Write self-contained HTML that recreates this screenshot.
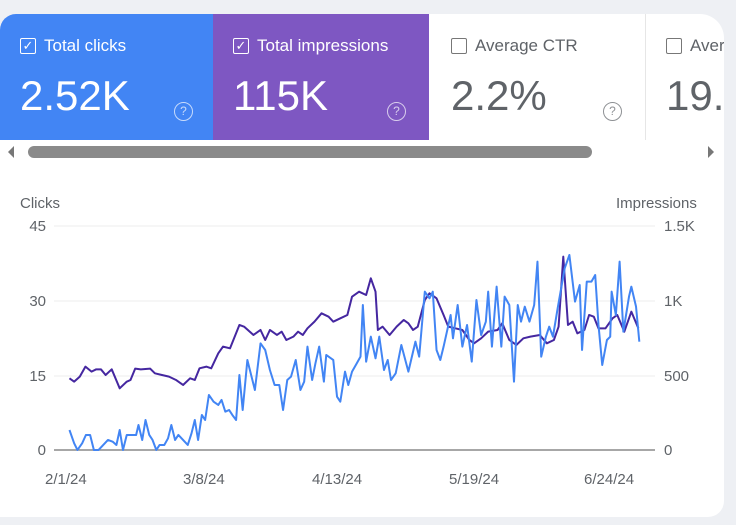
<!DOCTYPE html>
<html><head><meta charset="utf-8"><style>
body{margin:0;width:736px;height:525px;background:#eef0f4;font-family:"Liberation Sans",sans-serif;overflow:hidden;position:relative}
.card{position:absolute;left:0;top:14px;width:724px;height:503px;background:#fff;border-radius:16px 24px 16px 0;overflow:hidden}
.tile{position:absolute;top:0;height:126px}
.t1{left:0;width:213px;background:#4285f4;color:#fff}
.t2{left:213px;width:216px;background:#7e57c2;color:#fff}
.t3{left:429px;width:216px;color:#5f6368;border-right:1px solid #e6e6e6}
.t4{left:646px;width:90px;color:#5f6368}
.lab{position:absolute;left:20px;top:22px;font-size:17px;display:flex;align-items:center;white-space:nowrap}
.cb{width:14px;height:14px;border:1.5px solid currentColor;border-radius:2px;margin-right:8px;font-size:13px;line-height:14px;text-align:center}
.val{position:absolute;left:20px;top:58px;font-size:42px;white-space:nowrap}
.q{position:absolute;left:174px;top:88px;width:17px;height:17px;border:1.5px solid currentColor;border-radius:50%;font-size:12px;text-align:center;line-height:17px;opacity:.7}
.txt{position:absolute;font-size:15px;color:#5f6368}
</style></head><body>
<div class="card">
<div class="tile t1"><div class="lab"><div class="cb">✓</div>Total clicks</div><div class="val">2.52K</div><div class="q">?</div></div>
<div class="tile t2"><div class="lab"><div class="cb">✓</div>Total impressions</div><div class="val">115K</div><div class="q">?</div></div>
<div class="tile t3"><div class="lab" style="left:22px"><div class="cb" style="border-color:#777"></div>Average CTR</div><div class="val" style="left:22px">2.2%</div><div class="q">?</div></div>
<div class="tile t4"><div class="lab"><div class="cb" style="border-color:#777"></div>Aver</div><div class="val">19.</div></div>
</div>
<svg style="position:absolute;left:0;top:0" width="736" height="525">
<polygon points="8,152 14,146 14,158" fill="#777"/>
<polygon points="714,152 708,146 708,158" fill="#777"/>
<rect x="28" y="146" width="564" height="12" rx="6" fill="#8a8a8a"/>
<line x1="54" y1="226" x2="655" y2="226" stroke="#eee"/>
<line x1="54" y1="301" x2="655" y2="301" stroke="#eee"/>
<line x1="54" y1="376" x2="655" y2="376" stroke="#eee"/>
<line x1="54" y1="450" x2="655" y2="450" stroke="#8a8a8a" stroke-width="1.5"/>
<g transform="translate(0,250) scale(0.4694,0.3333)" fill="none" stroke-width="2" stroke-linejoin="round">
<polyline vector-effect="non-scaling-stroke" stroke="#4527a0" points="148,385 158,395 170,380 182,350 195,365 205,358 215,358 225,375 238,358 255,415 270,395 278,390 288,356 300,358 320,356 330,370 345,375 360,380 375,390 390,405 405,385 415,390 425,355 440,350 450,355 465,310 475,290 490,295 510,225 520,230 540,255 555,240 565,270 575,240 590,255 600,245 610,270 625,260 635,245 645,255 655,235 670,215 685,190 700,200 710,215 725,205 740,195 750,140 765,125 780,135 790,85 800,125 805,240 815,230 830,255 845,230 860,210 870,220 880,240 890,230 905,150 915,130 930,145 945,195 955,230 970,235 985,240 1000,270 1010,280 1025,265 1040,245 1060,240 1070,220 1085,270 1100,285 1115,265 1130,260 1150,255 1165,280 1180,270 1190,230 1200,20 1210,225 1220,215 1230,250 1245,240 1255,195 1265,200 1275,235 1290,235 1305,205 1315,195 1330,245 1345,185 1360,235"/>
<polyline vector-effect="non-scaling-stroke" stroke="#4285f4" points="148,540 158,580 165,600 175,580 183,555 192,555 200,600 210,600 220,585 230,570 240,575 248,585 255,540 262,600 270,555 280,555 290,555 295,525 303,570 310,510 318,555 325,570 333,600 340,585 350,585 358,565 365,525 373,570 380,555 390,570 400,585 408,550 415,510 422,570 430,495 437,510 445,435 455,455 465,465 472,450 480,485 488,480 495,495 503,510 510,375 517,480 527,330 543,420 555,280 565,300 575,360 585,405 595,405 603,480 612,390 620,380 630,330 640,420 648,395 655,290 665,390 672,340 680,290 690,395 695,315 705,325 710,330 718,440 725,455 735,365 742,405 750,365 760,340 768,320 773,165 780,335 790,260 800,325 808,260 818,360 826,330 833,390 843,370 855,285 870,365 885,275 893,320 905,125 915,145 922,125 930,300 938,330 945,290 960,195 965,265 975,165 985,290 995,225 1005,335 1015,150 1025,255 1035,215 1040,125 1048,290 1058,110 1068,290 1075,140 1085,165 1095,395 1103,165 1110,215 1118,170 1128,215 1138,165 1145,35 1153,320 1163,260 1170,230 1178,260 1188,175 1203,55 1213,15 1225,155 1235,105 1240,300 1250,95 1260,95 1268,75 1275,225 1283,345 1293,270 1300,260 1303,125 1312,195 1320,35 1328,245 1340,140 1345,110 1355,170 1362,275"/>
</g>
</svg>
<div class="txt" style="left:20px;top:195px">Clicks</div>
<div class="txt" style="left:616px;top:195px">Impressions</div>
<div class="txt" style="left:0;width:46px;text-align:right;top:218px">45</div>
<div class="txt" style="left:0;width:46px;text-align:right;top:293px">30</div>
<div class="txt" style="left:0;width:46px;text-align:right;top:368px">15</div>
<div class="txt" style="left:0;width:46px;text-align:right;top:442px">0</div>
<div class="txt" style="left:664px;top:218px">1.5K</div>
<div class="txt" style="left:664px;top:293px">1K</div>
<div class="txt" style="left:664px;top:368px">500</div>
<div class="txt" style="left:664px;top:442px">0</div>
<div class="txt" style="left:45px;top:471px">2/1/24</div>
<div class="txt" style="left:183px;top:471px">3/8/24</div>
<div class="txt" style="left:312px;top:471px">4/13/24</div>
<div class="txt" style="left:449px;top:471px">5/19/24</div>
<div class="txt" style="left:584px;top:471px">6/24/24</div>
</body></html>
